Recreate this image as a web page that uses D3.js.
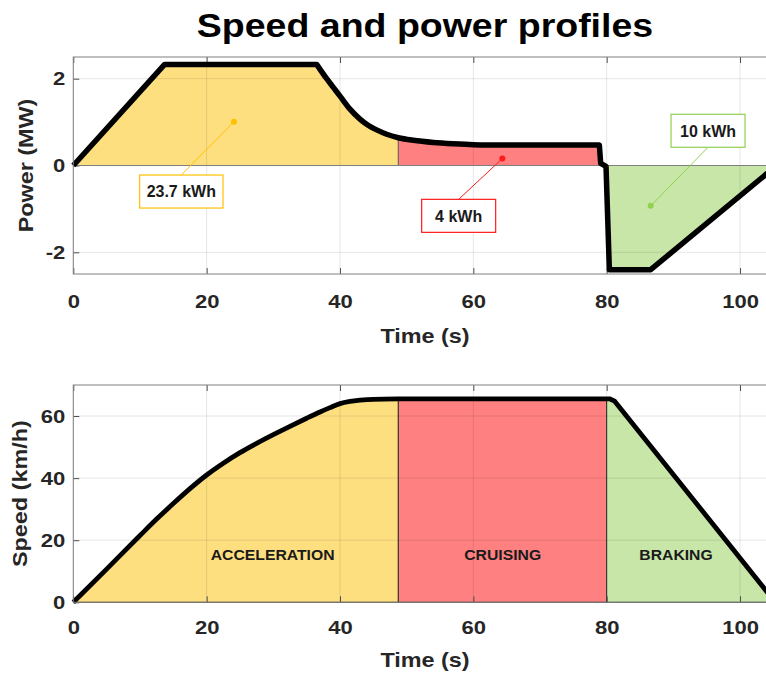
<!DOCTYPE html>
<html>
<head>
<meta charset="utf-8">
<script src="https://cdn.jsdelivr.net/npm/d3@7"></script>
<style>
  body { margin: 0; background: #fff; overflow: hidden; }
  svg { display: block; font-family: "Liberation Sans", Arial, sans-serif; font-weight: bold; }
</style>
</head>
<body>
<svg id="chart" width="766" height="675"></svg>
<script>
// power profile
const powerTime = [0, 13.7, 36.5, 38, 39, 40, 41.5, 43, 44, 45.5, 47, 48.75, 51, 54, 57, 60, 66, 78.9, 79.1, 79.9, 80.4, 86.6, 105.5];
const powerMW = [0, 2.33, 2.33, 2.0, 1.8, 1.6, 1.3, 1.07, 0.95, 0.82, 0.72, 0.64, 0.58, 0.53, 0.5, 0.48, 0.47, 0.47, 0.05, -0.02, -2.4, -2.4, 0];

// speed profile
const speedTime = [0, 5, 10, 12.5, 15, 17.5, 20, 22.5, 25, 27.5, 30, 32.5, 35, 37, 38.5, 40, 41.5, 43, 45, 48.75, 80.5, 81.2, 105.3];
const speedKmh = [0, 10.7, 21.5, 26.8, 31.8, 36.6, 41.0, 44.8, 48.2, 51.2, 54.0, 56.7, 59.3, 61.3, 62.7, 64.0, 64.7, 65.1, 65.4, 65.5, 65.5, 64.8, 0];

const phaseNames = ['ACCELERATION', 'CRUISING', 'BRAKING'];
const phaseColors = ['#fedf80', '#ff8080', '#c9e6a9'];
const phaseAccent = ['#ffc000', '#ff1a1a', '#92d050'];
const powerPhaseEdges = [0, 48.75, 79.5, 105.5];
const speedPhaseEdges = [0, 48.75, 80, 105.5];
const phaseLabelTime = [29.9, 64.4, 90.4];
const phaseLabelSpeed = 13.6;

// energy call-outs: label, marker point, box centre (data units)
const energyLabels = ['23.7 kWh', '4 kWh', '10 kWh'];
const energyPoint = [[24.1, 1.01], [64.35, 0.16], [86.6, -0.93]];
const energyBox = [[16.2, -0.6], [57.8, -1.16], [95.2, 0.8]];

const timeTicks = [0, 20, 40, 60, 80, 100];
const powerTicks = [-2, 0, 2];
const speedTicks = [0, 20, 40, 60];

const config = {
  left: 73.3,
  right: 776.7,
  top1: 57, bottom1: 274,
  top2: 385, bottom2: 602.3,
  tickFont: 19,
  tickStretch: 1.16,
  labelFont: 19.5,
  labelStretch: 1.2,
};

const svg = d3.select('#chart');

const x = d3.scaleLinear().domain([0, 105.5]).range([config.left, config.right]);
const yPower = d3.scaleLinear().domain([-2.5, 2.5]).range([config.bottom1, config.top1]);
const ySpeed = d3.scaleLinear().domain([0, 70]).range([config.bottom2, config.top2]);

function pairs(ts, vs) {
  return ts.map((t, i) => [t, vs[i]]);
}

// cut a series to [a, b], interpolating the ends
function clip(pts, a, b) {
  const out = [];
  const at = (t) => {
    for (let i = 1; i < pts.length; i += 1) {
      if (t <= pts[i][0]) {
        const p = pts[i - 1];
        const q = pts[i];
        const f = (t - p[0]) / (q[0] - p[0] || 1);
        return p[1] + f * (q[1] - p[1]);
      }
    }
    return pts[pts.length - 1][1];
  };
  out.push([a, at(a)]);
  pts.forEach((p) => { if (p[0] > a && p[0] < b) out.push(p); });
  out.push([b, at(b)]);
  return out;
}

// straight segments, except a smooth stretch between t0 and t1
function pieceLine(pts, y, t0, t1) {
  const lin = d3.line().x((d) => x(d[0])).y((d) => y(d[1]));
  const mono = d3.line().curve(d3.curveMonotoneX).x((d) => x(d[0])).y((d) => y(d[1]));
  const a = pts.filter((p) => p[0] <= t0);
  const b = pts.filter((p) => p[0] >= t0 && p[0] <= t1);
  const c = pts.filter((p) => p[0] >= t1);
  let d = '';
  if (a.length > 1) d += lin(a);
  d += d ? mono(b).replace(/^M/, 'L') : mono(b);
  if (c.length > 1) d += lin(c).replace(/^M/, 'L');
  return d;
}

function stretchText(sel, sx) {
  sel.each(function () {
    const t = d3.select(this);
    const x0 = +t.attr('x') || 0;
    t.attr('x', x0 / sx).attr('transform', `scale(${sx},1)`);
  });
}

function drawAxes(top, bottom, y, yTicks, xPad) {
  const g = svg.append('g');
  // grid
  g.selectAll('.gx').data(timeTicks).join('line')
    .attr('x1', (d) => x(d)).attr('x2', (d) => x(d))
    .attr('y1', top).attr('y2', bottom)
    .attr('stroke', '#000').attr('stroke-opacity', 0.1);
  g.selectAll('.gy').data(yTicks).join('line')
    .attr('x1', config.left).attr('x2', config.right)
    .attr('y1', (d) => y(d)).attr('y2', (d) => y(d))
    .attr('stroke', '#000').attr('stroke-opacity', 0.1);

  const xb = svg.append('g')
    .attr('transform', `translate(0,${bottom})`)
    .call(d3.axisBottom(x).tickValues(timeTicks).tickSize(-6).tickSizeOuter(0).tickPadding(xPad));
  const xt = svg.append('g')
    .attr('transform', `translate(0,${top})`)
    .call(d3.axisTop(x).tickValues(timeTicks).tickSize(-6).tickSizeOuter(0).tickFormat(''));
  const yl = svg.append('g')
    .attr('transform', `translate(${config.left},0)`)
    .call(d3.axisLeft(y).tickValues(yTicks).tickSize(-6).tickSizeOuter(0).tickPadding(8)
      .tickFormat((d) => String(d)));

  [xb, xt, yl].forEach((a) => {
    a.select('.domain').remove();
    a.selectAll('line').attr('stroke', '#4d4d4d');
    a.selectAll('text')
      .attr('fill', '#262626')
      .style('font-size', `${config.tickFont}px`)
      .style('font-family', '"Liberation Sans", Arial, sans-serif')
      .style('font-weight', 'bold');
  });
  stretchText(xb.selectAll('text'), config.tickStretch);
  stretchText(yl.selectAll('text'), config.tickStretch);
  return g;
}

function boxOutline(top, bottom) {
  svg.append('rect')
    .attr('x', config.left).attr('y', top)
    .attr('width', config.right - config.left).attr('height', bottom - top)
    .attr('fill', 'none').attr('stroke', '#808080').attr('stroke-width', 1);
}

function axisLabel(text, tx, ty, rotate) {
  svg.append('text')
    .attr('transform', `translate(${tx},${ty}) rotate(${rotate}) scale(${config.labelStretch},1)`)
    .attr('text-anchor', 'middle')
    .attr('fill', '#262626')
    .style('font-size', `${config.labelFont}px`)
    .text(text);
}

// ---------- top: power ----------
const powerPts = pairs(powerTime, powerMW);
const area1 = d3.area().x((d) => x(d[0])).y0(yPower(0)).y1((d) => yPower(d[1]));

phaseNames.forEach((n, i) => {
  svg.append('path')
    .datum(clip(powerPts, powerPhaseEdges[i], powerPhaseEdges[i + 1]))
    .attr('d', area1)
    .attr('fill', phaseColors[i])
    .attr('stroke', '#555').attr('stroke-width', 0.8);
});

drawAxes(config.top1, config.bottom1, yPower, powerTicks, 21);

svg.append('line')
  .attr('x1', config.left).attr('x2', config.right)
  .attr('y1', yPower(0)).attr('y2', yPower(0))
  .attr('stroke', '#7f7f7f').attr('stroke-width', 1.2);

svg.append('path')
  .attr('d', pieceLine(powerPts, yPower, 36.5, 66))
  .attr('fill', 'none')
  .attr('stroke', '#000')
  .attr('stroke-width', 5.5)
  .attr('stroke-linejoin', 'round');

boxOutline(config.top1, config.bottom1);

// energy call-outs
energyLabels.forEach((lab, i) => {
  const px = x(energyPoint[i][0]);
  const py = yPower(energyPoint[i][1]);
  const bx = x(energyBox[i][0]);
  const by = yPower(energyBox[i][1]);
  const g = svg.append('g');
  const txt = g.append('text')
    .attr('x', bx).attr('y', by)
    .attr('dy', '0.36em')
    .attr('text-anchor', 'middle')
    .attr('fill', '#1a1a1a')
    .style('font-size', '16px')
    .text(lab);
  const w = Math.max(txt.node().getComputedTextLength() + 14, 74);
  const h = 33;
  const edgeY = py < by ? by - h / 2 : by + h / 2;
  g.insert('line', 'text')
    .attr('x1', px).attr('y1', py).attr('x2', bx).attr('y2', edgeY)
    .attr('stroke', phaseAccent[i]).attr('stroke-width', 1);
  g.insert('rect', 'text')
    .attr('x', bx - w / 2).attr('y', by - h / 2)
    .attr('width', w).attr('height', h)
    .attr('fill', '#fff')
    .attr('stroke', phaseAccent[i]).attr('stroke-width', 1.2);
  g.append('circle')
    .attr('cx', px).attr('cy', py).attr('r', 3)
    .attr('fill', phaseAccent[i]);
});

axisLabel('Power (MW)', 33, (config.top1 + config.bottom1) / 2, -90);
axisLabel('Time (s)', (config.left + config.right) / 2, 343, 0);

// ---------- bottom: speed ----------
const speedPts = pairs(speedTime, speedKmh);
const area2 = d3.area().x((d) => x(d[0])).y0(ySpeed(0)).y1((d) => ySpeed(d[1]));
const area2Smooth = d3.area().curve(d3.curveMonotoneX)
  .x((d) => x(d[0])).y0(ySpeed(0)).y1((d) => ySpeed(d[1]));

phaseNames.forEach((n, i) => {
  svg.append('path')
    .datum(clip(speedPts, speedPhaseEdges[i], speedPhaseEdges[i + 1]))
    .attr('d', i === 0 ? area2Smooth : area2)
    .attr('fill', phaseColors[i])
    .attr('stroke', '#333').attr('stroke-width', 1);
});

drawAxes(config.top2, config.bottom2, ySpeed, speedTicks, 18.5);

svg.append('path')
  .attr('d', pieceLine(speedPts, ySpeed, 0, 48.75))
  .attr('fill', 'none')
  .attr('stroke', '#000')
  .attr('stroke-width', 4.8)
  .attr('stroke-linejoin', 'round');

boxOutline(config.top2, config.bottom2);

phaseNames.forEach((n, i) => {
  svg.append('text')
    .attr('transform', `translate(${x(phaseLabelTime[i])},${ySpeed(phaseLabelSpeed)}) scale(1.05,1)`)
    .attr('text-anchor', 'middle')
    .attr('fill', '#1a1a1a')
    .style('font-size', '15px')
    .text(n);
});

axisLabel('Speed (km/h)', 27, (config.top2 + config.bottom2) / 2, -90);
axisLabel('Time (s)', (config.left + config.right) / 2, 667, 0);

// title
svg.append('text')
  .attr('transform', `translate(${(config.left + config.right) / 2},37) scale(1.12,1)`)
  .attr('text-anchor', 'middle')
  .attr('fill', '#000')
  .style('font-size', '33.5px')
  .text('Speed and power profiles');
</script>
</body>
</html>
